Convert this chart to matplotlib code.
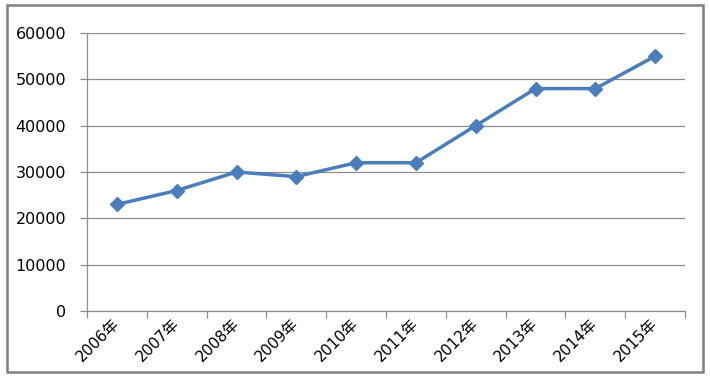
import matplotlib
matplotlib.use('Agg')
import matplotlib.pyplot as plt
from matplotlib.patches import Rectangle

plt.rcParams['font.family'] = ['DejaVu Sans', 'Noto Sans CJK SC']

years = ['2006年', '2007年', '2008年', '2009年', '2010年',
         '2011年', '2012年', '2013年', '2014年', '2015年']
values = [23000, 26000, 30000, 29000, 32000, 32000, 40000, 48000, 48000, 55000]

fig = plt.figure(figsize=(7.1, 3.79), dpi=100)
ax = fig.add_axes([87/710, 1-311/379, 598/710, 278/379])

x = list(range(len(years)))
ax.plot(x, values, color='#4A7EBB', lw=2.5, marker='D', markersize=7,
        markerfacecolor='#4A7EBB', markeredgecolor='#4A7EBB', zorder=3)

ax.set_xlim(-0.5, len(years) - 0.5)
ax.set_ylim(0, 60000)
ax.set_yticks(range(0, 60001, 10000))
ax.set_yticklabels([str(v) for v in range(0, 60001, 10000)], fontsize=11.5)
ax.yaxis.grid(True, color='#8c8c8c', lw=0.9)
ax.set_axisbelow(True)

# category labels at centres, tick marks at boundaries
ax.set_xticks(x)
ax.set_xticklabels(years, rotation=45, ha='right', va='center',
                   rotation_mode='anchor', fontsize=11)
ax.tick_params(axis='x', which='major', length=0, pad=7)
ax.set_xticks([i - 0.5 for i in range(len(years) + 1)], minor=True)
ax.tick_params(axis='x', which='minor', length=5, color='#8c8c8c', width=0.9)
ax.tick_params(axis='y', length=5, color='#8c8c8c', width=0.9, pad=10)

for s in ['top', 'right']:
    ax.spines[s].set_visible(False)
for s in ['left', 'bottom']:
    ax.spines[s].set_color('#8c8c8c')
    ax.spines[s].set_linewidth(0.9)

fig.patches.append(Rectangle((7/710, 1-372/379), 696/710, 367/379,
                             transform=fig.transFigure, fill=False,
                             edgecolor='#808080', lw=1.8))

fig.savefig('out.png', dpi=100)
